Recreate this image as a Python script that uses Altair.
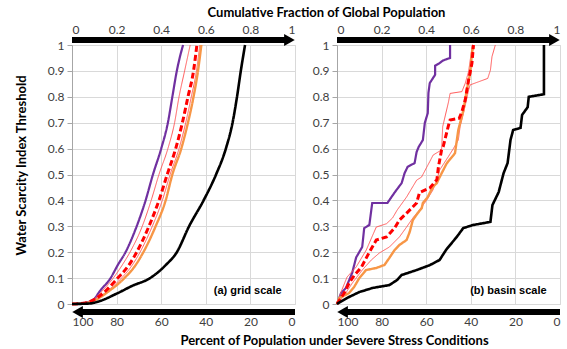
import altair as alt
import pandas as pd

FONT = "Lato"

# ---------------- (a) grid scale ----------------
# threshold levels shared by the smooth grid-scale curves
a_thr = [0, 0.005, 0.02, 0.05, 0.1, 0.15, 0.2, 0.3, 0.4, 0.5, 0.6, 0.7, 0.8, 0.9, 1.0]
a_purple = [0, 0.06, 0.10, 0.125, 0.173, 0.205, 0.24, 0.29, 0.33, 0.363, 0.40, 0.43, 0.45, 0.47, 0.498]
a_red_hi = [0, 0.06, 0.10, 0.135, 0.185, 0.225, 0.26, 0.315, 0.355, 0.39, 0.43, 0.46, 0.48, 0.505, 0.53]
a_red_mid = [0, 0.065, 0.105, 0.15, 0.205, 0.255, 0.29, 0.345, 0.39, 0.427, 0.465, 0.495, 0.52, 0.545, 0.56]
a_red_lo = [0, 0.065, 0.11, 0.158, 0.222, 0.27, 0.305, 0.36, 0.405, 0.44, 0.48, 0.51, 0.535, 0.558, 0.573]
a_orange = [0, 0.07, 0.115, 0.166, 0.235, 0.285, 0.32, 0.375, 0.42, 0.45, 0.49, 0.52, 0.545, 0.565, 0.58]
a_black_x = [0, 0.08, 0.12, 0.2, 0.27, 0.35, 0.42, 0.47, 0.525, 0.59, 0.646, 0.69, 0.72, 0.74, 0.757, 0.776]
a_black_y = [0, 0.002, 0.01, 0.04, 0.07, 0.1, 0.15, 0.2, 0.3, 0.4, 0.5, 0.6, 0.7, 0.8, 0.9, 1.0]

# ---------------- (b) basin scale ----------------
b_purple_x = [0, 0.018, 0.04, 0.068, 0.086, 0.113, 0.122, 0.145, 0.158, 0.226, 0.258, 0.29, 0.303, 0.317,
              0.348, 0.357, 0.366, 0.385, 0.394, 0.407, 0.41, 0.416, 0.44, 0.44, 0.46, 0.475, 0.507, 0.507]
b_purple_y = [0, 0.042, 0.062, 0.12, 0.18, 0.22, 0.293, 0.305, 0.39, 0.39, 0.43, 0.467, 0.505, 0.53,
              0.544, 0.587, 0.606, 0.633, 0.7, 0.737, 0.815, 0.853, 0.885, 0.92, 0.93, 0.94, 0.95, 1.0]
b_red_hi_x = [0, 0.018, 0.045, 0.086, 0.131, 0.176, 0.222, 0.249, 0.27, 0.312, 0.357, 0.379, 0.416,
              0.431, 0.469, 0.474, 0.5, 0.507, 0.56, 0.575, 0.59, 0.607]
b_red_hi_y = [0, 0.046, 0.104, 0.143, 0.208, 0.297, 0.31, 0.332, 0.363, 0.413, 0.478, 0.49, 0.55,
              0.575, 0.595, 0.685, 0.78, 0.813, 0.82, 0.852, 0.897, 1.0]
b_red_mid_x = [0, 0.032, 0.054, 0.077, 0.11, 0.145, 0.176, 0.222, 0.258, 0.28, 0.317, 0.357, 0.37,
               0.416, 0.448, 0.455, 0.469, 0.476, 0.5, 0.507, 0.548, 0.56, 0.575, 0.59, 0.605, 0.612]
b_red_mid_y = [0, 0.042, 0.08, 0.11, 0.143, 0.2, 0.247, 0.259, 0.293, 0.324, 0.355, 0.39, 0.43,
               0.448, 0.48, 0.53, 0.595, 0.607, 0.69, 0.71, 0.717, 0.742, 0.788, 0.865, 0.929, 1.0]
b_red_lo_x = [0, 0.03, 0.068, 0.113, 0.154, 0.19, 0.235, 0.28, 0.312, 0.34, 0.37, 0.403, 0.43, 0.448,
              0.46, 0.5, 0.522, 0.544, 0.552, 0.567, 0.582, 0.59, 0.597, 0.635, 0.676, 0.688, 0.695, 0.71]
b_red_lo_y = [0, 0.03, 0.08, 0.131, 0.17, 0.197, 0.22, 0.259, 0.297, 0.332, 0.363, 0.402, 0.44, 0.479,
              0.517, 0.57, 0.6, 0.633, 0.685, 0.736, 0.794, 0.826, 0.846, 0.858, 0.871, 0.903, 0.955, 1.0]
b_orange_x = [0, 0.01, 0.054, 0.077, 0.1, 0.13, 0.176, 0.213, 0.235, 0.258, 0.28, 0.312, 0.326, 0.34,
              0.362, 0.38, 0.385, 0.407, 0.416, 0.43, 0.448, 0.454, 0.492, 0.529, 0.544, 0.567, 0.582,
              0.597, 0.605, 0.612]
b_orange_y = [0, 0.023, 0.042, 0.066, 0.1, 0.131, 0.139, 0.151, 0.178, 0.208, 0.228, 0.247, 0.278, 0.324,
              0.351, 0.37, 0.39, 0.413, 0.429, 0.452, 0.467, 0.479, 0.543, 0.582, 0.672, 0.749, 0.826,
              0.89, 0.968, 1.0]
b_black_x = [0, 0.054, 0.1, 0.16, 0.235, 0.27, 0.29, 0.357, 0.416, 0.46, 0.49, 0.538, 0.566, 0.61,
             0.688, 0.697, 0.725, 0.747, 0.765, 0.778, 0.79, 0.823, 0.83, 0.855, 0.86, 0.928, 0.928]
b_black_y = [0, 0.027, 0.046, 0.062, 0.073, 0.093, 0.112, 0.131, 0.15, 0.17, 0.21, 0.26, 0.293, 0.305,
             0.317, 0.382, 0.432, 0.505, 0.544, 0.633, 0.672, 0.68, 0.73, 0.76, 0.8, 0.81, 1.0]

tick_values = [0, 0.2, 0.4, 0.6, 0.8, 1.0]
y_values = [round(v * 0.1, 1) for v in range(11)]

SERIES = {
    "purple": dict(color="#7030A0", width=2.2, dash=[1, 0]),
    "red_hi": dict(color="#FF5B5B", width=1.0, dash=[1, 0]),
    "red_lo": dict(color="#FF5B5B", width=1.0, dash=[1, 0]),
    "orange": dict(color="#F79646", width=2.4, dash=[1, 0]),
    "red_mid": dict(color="#FF0000", width=3.0, dash=[6, 3]),
    "black": dict(color="#000000", width=2.6, dash=[1, 0]),
}

rows = []


def add(panel, name, xs, ys):
    for i, (xv, yv) in enumerate(zip(xs, ys)):
        rows.append({"panel": panel, "series": name, "i": i, "x": xv, "y": yv})


add("a", "purple", a_purple, a_thr)
add("a", "red_hi", a_red_hi, a_thr)
add("a", "red_mid", a_red_mid, a_thr)
add("a", "red_lo", a_red_lo, a_thr)
add("a", "orange", a_orange, a_thr)
add("a", "black", a_black_x, a_black_y)
add("b", "purple", b_purple_x, b_purple_y)
add("b", "red_hi", b_red_hi_x, b_red_hi_y)
add("b", "red_mid", b_red_mid_x, b_red_mid_y)
add("b", "red_lo", b_red_lo_x, b_red_lo_y)
add("b", "orange", b_orange_x, b_orange_y)
add("b", "black", b_black_x, b_black_y)
df = pd.DataFrame(rows)

# one-row table for single decorations (arrows, panel tags)
one = pd.DataFrame({"k": [0]})

W, H = 223, 259
xs = alt.Scale(domain=[0, 1], nice=False, zero=False)
ys = alt.Scale(domain=[0, 1], nice=False, zero=False)

label_style = dict(labelFont=FONT, labelFontSize=12, labelColor="#404040")
title_style = dict(titleFont=FONT, titleFontSize=13, titleFontWeight="bold", titleColor="#000000")


def panel(key, label, first):
    d = df[df.panel == key]
    top_axis = alt.Axis(
        orient="top", values=tick_values, format="~g", ticks=False, domain=False,
        grid=True, gridColor="#D9D9D9", labelPadding=9,
        title="Cumulative Fraction of Global Population" if first else None,
        titleX=254, titleY=-33, titleAlign="center", titleBaseline="middle",
        **label_style, **title_style,
    )
    left_axis = alt.Axis(
        values=y_values, format="~g", grid=True, gridColor="#D9D9D9",
        domainColor="#A6A6A6", tickColor="#A6A6A6", tickSize=5, labelPadding=3,
        title="Water Scarcity Index Threshold" if first else None,
        titleX=-51, titleY=120, titleAlign="center", titleBaseline="middle", titleAngle=270,
        **label_style, **title_style,
    )
    bottom_axis = alt.Axis(
        orient="bottom", values=tick_values,
        labelExpr="format(100 - datum.value * 100, 'd')",
        ticks=False, domain=False, grid=False, labelPadding=12,
        title="Percent of Population under Severe Stress Conditions" if first else None,
        titleX=262, titleY=36, titleAlign="center", titleBaseline="middle",
        **label_style, **title_style,
    )

    layers = []
    for n, (name, st) in enumerate(SERIES.items()):
        layers.append(
            alt.Chart(d[d.series == name]).mark_line(
                color=st["color"], strokeWidth=st["width"], strokeDash=st["dash"],
                interpolate="monotone" if key == "a" else "linear",
            ).encode(
                x=alt.X("x:Q", scale=xs, axis=top_axis if n == 0 else None),
                y=alt.Y("y:Q", scale=ys, axis=left_axis if n == 0 else None),
                order="i:Q",
            )
        )

    # direction arrows along the top and bottom axes
    top_shaft = alt.Chart(one).mark_rule(color="black", strokeWidth=6, strokeCap="butt").encode(
        x=alt.XDatum(0.0, type="quantitative", scale=xs, axis=None),
        x2=alt.X2Datum(0.965),
        y=alt.value(-5),
    )
    top_head = alt.Chart(one).mark_point(shape="triangle-right", filled=True, color="black",
                                         opacity=1, size=150).encode(
        x=alt.XDatum(0.975, type="quantitative", scale=xs, axis=None),
        y=alt.value(-5),
    )
    bottom_shaft = alt.Chart(one).mark_rule(color="black", strokeWidth=6, strokeCap="butt").encode(
        x=alt.XDatum(0.035, type="quantitative", scale=xs, axis=bottom_axis),
        x2=alt.X2Datum(1.0),
        y=alt.value(H + 8),
    )
    bottom_head = alt.Chart(one).mark_point(shape="triangle-left", filled=True, color="black",
                                            opacity=1, size=150).encode(
        x=alt.XDatum(0.025, type="quantitative", scale=xs, axis=None),
        y=alt.value(H + 8),
    )
    tag = alt.Chart(one).mark_text(
        text=label, font="Liberation Sans", fontSize=11, fontWeight="bold",
        align="right", baseline="middle", color="#000000",
    ).encode(
        x=alt.XDatum(0.94, type="quantitative", scale=xs, axis=None),
        y=alt.YDatum(0.05, type="quantitative", scale=ys, axis=None),
    )

    return alt.layer(*layers, top_shaft, top_head, bottom_shaft, bottom_head, tag).resolve_axis(
        x="independent", y="independent"
    ).properties(width=W, height=H)


chart = alt.hconcat(
    panel("a", "(a) grid scale", True),
    panel("b", "(b) basin scale", False),
    spacing=42, bounds="flush",
).properties(
    padding={"left": 14, "top": 5, "right": 0, "bottom": 0},
).configure_view(stroke=None).configure(background="white")

chart.save("out.html", embed_options={"renderer": "svg", "actions": False})
